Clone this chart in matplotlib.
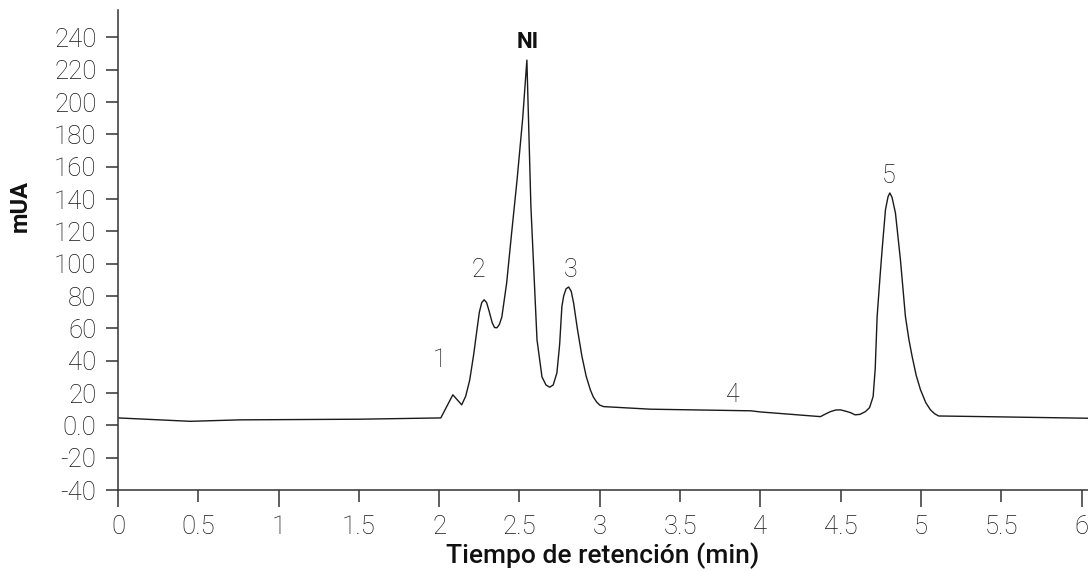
import numpy as np
import matplotlib.pyplot as plt
from matplotlib.ticker import FixedLocator, FuncFormatter

plt.rcParams['font.family'] = ['Roboto', 'DejaVu Sans']

# trace (min, mUA)
tiempo = [0.00, 0.45, 0.76, 1.50, 2.01, 2.085, 2.14, 2.165, 2.19, 2.215, 2.235, 2.25,
          2.265, 2.28, 2.295, 2.31, 2.33, 2.345, 2.36, 2.375, 2.39, 2.42, 2.45, 2.485,
          2.52, 2.546, 2.571, 2.609, 2.64, 2.665, 2.688, 2.71, 2.733, 2.75, 2.764,
          2.775, 2.79, 2.806, 2.822, 2.837, 2.86, 2.889, 2.915, 2.941, 2.96, 2.98,
          3.00, 3.024, 3.315, 3.94, 4.00, 4.374, 4.405, 4.436, 4.47, 4.498, 4.53, 4.56,
          4.59, 4.62, 4.654, 4.68, 4.702, 4.715, 4.727, 4.745, 4.758, 4.779, 4.795,
          4.806, 4.82, 4.841, 4.872, 4.903, 4.925, 4.945, 4.97, 4.997, 5.03, 5.059,
          5.085, 5.11, 5.39, 6.04]
senal = [4.6, 2.5, 3.4, 3.8, 4.6, 18.9, 12.7, 18.0, 28.0, 44.0, 59.0, 70.0,
         76.0, 77.7, 76.0, 71.0, 63.5, 60.5, 60.4, 62.5, 67.0, 88.0, 118.0, 152.0,
         190.0, 226.0, 135.5, 53.0, 30.0, 25.0, 23.6, 25.0, 32.5, 50.0, 73.6,
         80.0, 84.5, 85.6, 83.0, 75.7, 60.0, 42.6, 30.5, 22.0, 17.5, 14.5,
         12.5, 11.6, 10.0, 9.0, 8.3, 5.4, 7.0, 8.5, 9.5, 9.6, 8.8, 7.9,
         6.5, 6.8, 8.5, 11.0, 17.8, 35.0, 67.4, 92.0, 108.7, 133.5, 141.5,
         143.8, 141.0, 131.4, 102.5, 67.4, 53.0, 42.6, 31.0, 22.0, 14.0, 9.6,
         7.2, 5.8, 5.4, 4.4]

etiquetas = ['1', '2', 'NI', '3', '4', '5']
etiq_t = [2.00, 2.243, 2.548, 2.816, 3.83, 4.80]
etiq_v = [40.5, 96.0, 237.0, 96.0, 18.9, 154.0]

y_ticks = [-40, -20, 0, 20, 40, 60, 80, 100, 120, 140, 160, 180, 200, 220, 240]
x_major = [0, 1, 2, 3, 4, 5, 6]
x_minor = [0.5, 1.5, 2.5, 3.5, 4.5, 5.5]

gris = '#333333'
texto = '#161616'

fig = plt.figure(figsize=(10.88, 5.72), dpi=100)
ax = fig.add_axes([118 / 1088, 82 / 572, 970 / 1088, 480 / 572])

ax.plot(tiempo, senal, color='#1a1a1a', lw=1.0)

for txt, t, v in zip(etiquetas, etiq_t, etiq_v):
    if txt == 'NI':
        ax.text(t, v, txt, ha='center', va='center', fontsize=16, color='#111',
                fontweight='bold')
    else:
        ax.text(t, v, txt, ha='center', va='center', fontsize=18, color=texto,
                fontweight='light')

ax.set_xlim(0, 6.04)
ax.set_ylim(-40, 257)

for s in ['top', 'right']:
    ax.spines[s].set_visible(False)
for s in ['left', 'bottom']:
    ax.spines[s].set_linewidth(1.1)
    ax.spines[s].set_color(gris)

ax.yaxis.set_major_locator(FixedLocator(y_ticks))
ax.yaxis.set_major_formatter(FuncFormatter(lambda v, p: '0.0' if v == 0 else '%d' % v))
ax.tick_params(axis='y', direction='out', length=8.5, width=1.1, color=gris,
               labelsize=18.5, labelcolor=texto, pad=7)

ax.xaxis.set_major_locator(FixedLocator(x_major))
ax.xaxis.set_minor_locator(FixedLocator(x_minor))
ax.xaxis.set_major_formatter(FuncFormatter(lambda v, p: '%g' % v))
ax.xaxis.set_minor_formatter(FuncFormatter(lambda v, p: '%g' % v))
ax.tick_params(axis='x', which='major', direction='out', length=12, width=1.1,
               color=gris, labelsize=18.5, labelcolor=texto, pad=6)
ax.tick_params(axis='x', which='minor', direction='out', length=8.5, width=1.1,
               color=gris, labelsize=18.5, labelcolor=texto, pad=9.5)

for lab in ax.get_xticklabels(which='both') + ax.get_yticklabels():
    lab.set_fontweight('light')

ax.set_xlabel('Tiempo de retención (min)', fontsize=19, fontweight='medium', color='#111')
ax.xaxis.set_label_coords(0.5, -0.11)
ax.set_ylabel('mUA', fontsize=17, fontweight='bold', color='#111')
ax.yaxis.set_label_coords(-0.089, 0.592)

plt.savefig('out.png', dpi=100)
